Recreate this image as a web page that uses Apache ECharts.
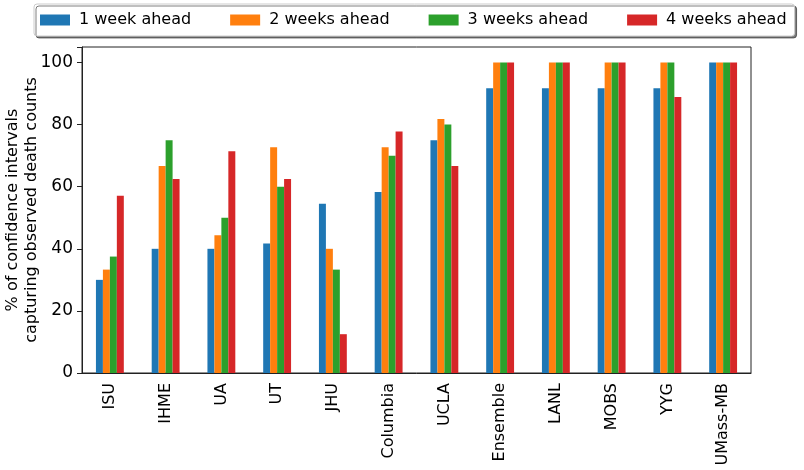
<!DOCTYPE html>
<html><head><meta charset="utf-8">
<script src="https://cdn.jsdelivr.net/npm/echarts@6/dist/echarts.min.js"></script>
<style>html,body{margin:0;padding:0;background:#fff}#c{width:804px;height:470px}</style>
</head><body><div id="c"></div>
<script>
const categories = ['ISU','IHME','UA','UT','JHU','Columbia','UCLA','Ensemble','LANL','MOBS','YYG','UMass-MB'];
const week1 = [30, 40, 40, 41.7, 54.5, 58.3, 75, 91.7, 91.7, 91.7, 91.7, 100];
const week2 = [33.3, 66.7, 44.4, 72.7, 40, 72.7, 81.8, 100, 100, 100, 100, 100];
const week3 = [37.5, 75, 50, 60, 33.3, 70, 80, 100, 100, 100, 100, 100];
const week4 = [57.1, 62.5, 71.4, 62.5, 12.5, 77.8, 66.7, 100, 100, 100, 88.9, 100];
const seriesNames = ['1 week ahead','2 weeks ahead','3 weeks ahead','4 weeks ahead'];
const colors = ['#1f77b4','#ff7f0e','#2ca02c','#d62728'];
const yTicks = [0,20,40,60,80,100];

const font = 'DejaVu Sans';
const chart = echarts.init(document.getElementById('c'), null, {renderer:'canvas'});
const data = [week1, week2, week3, week4];
chart.setOption({
  animation: false,
  textStyle: {fontFamily: font},
  grid: {left: 82, right: 53, top: 47, bottom: 97, show: true, borderColor: '#222', borderWidth: 1,
         containLabel: false, outerBoundsMode: 'none'},
  legend: {
    data: seriesNames, left: 34, top: 4, width: 770,
    itemWidth: 30, itemHeight: 11, itemGap: 39,
    padding: [8, 8, 8, 6],
    borderColor: '#ccc', borderWidth: 1, borderRadius: 3,
    backgroundColor: '#fff',
    shadowColor: 'rgba(0,0,0,0.5)', shadowBlur: 0, shadowOffsetX: 2, shadowOffsetY: 2,
    icon: 'rect',
    textStyle: {fontFamily: font, fontSize: 16, color: '#000', padding: [0,0,0,4]}
  },
  xAxis: {
    type: 'category', data: categories,
    axisLine: {lineStyle: {color: '#222'}},
    axisTick: {alignWithLabel: true, length: 5, lineStyle: {color: '#222'}},
    axisLabel: {rotate: 90, fontSize: 16, color: '#000', fontFamily: font, margin: 10}
  },
  yAxis: {
    type: 'value', min: 0, max: 105, interval: 20,
    name: '% of confidence intervals\ncapturing observed death counts',
    nameLocation: 'middle', nameRotate: 90, nameGap: 41, nameMoveOverlap: false,
    nameTextStyle: {fontSize: 16, color: '#000', fontFamily: font, lineHeight: 19},
    axisLine: {show: true, lineStyle: {color: '#222'}},
    axisTick: {show: true, length: 5, lineStyle: {color: '#222'}},
    splitLine: {show: false},
    axisLabel: {fontSize: 17, color: '#000', fontFamily: font, margin: 9,
      formatter: v => yTicks.includes(v) ? String(v) : ''}
  },
  series: data.map((d, i) => ({
    name: seriesNames[i], type: 'bar', data: d,
    itemStyle: {color: colors[i]},
    barGap: '0%', barCategoryGap: '50%'
  }))
});
</script></body></html>
